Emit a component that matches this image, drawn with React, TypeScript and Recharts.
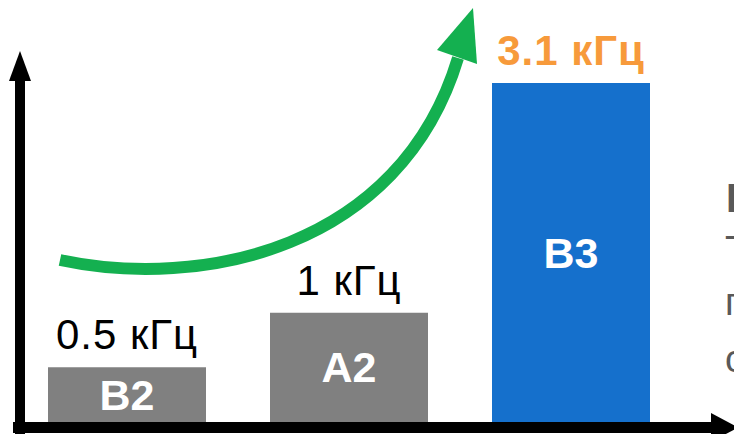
import React from 'react';
import { BarChart, Bar, XAxis, YAxis, Cell, LabelList } from 'recharts';

const categories = ['B2', 'A2', 'B3'];
const values = [0.5, 1, 3.1];
const valueLabels = ['0.5 кГц', '1 кГц', '3.1 кГц'];
const barColors = ['#808080', '#808080', '#1570CC'];
const labelColors = ['#000000', '#000000', '#F79A3B'];
const labelWeights = ['normal', 'normal', 'bold'];

// cut-off text that sits next to the chart on the original slide
const sideText = ['Р', 'Т', 'п', 'с'];

const data = categories.map((name, i) => ({
  name,
  value: values[i],
  label: valueLabels[i],
}));

const FONT = '"Liberation Sans", Arial, sans-serif';

const TopLabel = (props: any) => {
  const { x, y, width, value } = props;
  const i = valueLabels.indexOf(value);
  return (
    <text
      x={Number(x) + Number(width) / 2}
      y={Number(y) - 18}
      textAnchor="middle"
      fontFamily={FONT}
      fontSize={42}
      letterSpacing={1}
      fontWeight={labelWeights[i]}
      fill={labelColors[i]}
    >
      {value}
    </text>
  );
};

const InnerLabel = (props: any) => {
  const { x, y, width, height, value } = props;
  return (
    <text
      x={Number(x) + Number(width) / 2}
      y={Number(y) + Number(height) / 2}
      dy={15}
      textAnchor="middle"
      fontFamily={FONT}
      fontSize={43}
      fontWeight="bold"
      fill="#ffffff"
    >
      {value}
    </text>
  );
};

export default function App() {
  return (
    <div
      style={{
        position: 'absolute',
        left: 0,
        top: 0,
        width: 734,
        height: 434,
        overflow: 'hidden',
        background: '#fff',
      }}
    >
      <BarChart
        width={734}
        height={434}
        data={data}
        margin={{ top: 83, right: 52, bottom: 12, left: 16 }}
        barCategoryGap={32}
      >
        <XAxis dataKey="name" hide />
        <YAxis domain={[0, 3.1]} hide />
        <Bar dataKey="value" isAnimationActive={false}>
          {data.map((d, i) => (
            <Cell key={d.name} fill={barColors[i]} />
          ))}
          <LabelList dataKey="label" content={TopLabel} />
          <LabelList dataKey="name" content={InnerLabel} />
        </Bar>
      </BarChart>

      <svg
        width={734}
        height={434}
        style={{ position: 'absolute', left: 0, top: 0, pointerEvents: 'none' }}
      >
        {/* axes with arrow heads */}
        <rect x={15} y={78} width={10} height={356} fill="#000" />
        <polygon points="20,51 9,81 31,81" fill="#000" />
        <rect x={13} y={422} width={700} height={11} fill="#000" />
        <polygon points="738,427.5 711,413 711,442" fill="#000" />

        {/* green growth arrow */}
        <path
          d="M60,260 C200,290 400,250 458,58"
          fill="none"
          stroke="#14B050"
          strokeWidth={12}
        />
        <polygon points="473,8 437,50 477,64" fill="#14B050" />

        {/* clipped side text */}
        <text x={726} y={212} fontFamily={FONT} fontSize={40} fontWeight="bold" fill="#595959">
          {sideText[0]}
        </text>
        <text x={725} y={263} fontFamily={FONT} fontSize={38} fill="#595959">
          {sideText[1]}
        </text>
        <text x={725} y={315} fontFamily={FONT} fontSize={38} fill="#595959">
          {sideText[2]}
        </text>
        <text x={725} y={372} fontFamily={FONT} fontSize={38} fill="#595959">
          {sideText[3]}
        </text>
      </svg>
    </div>
  );
}
